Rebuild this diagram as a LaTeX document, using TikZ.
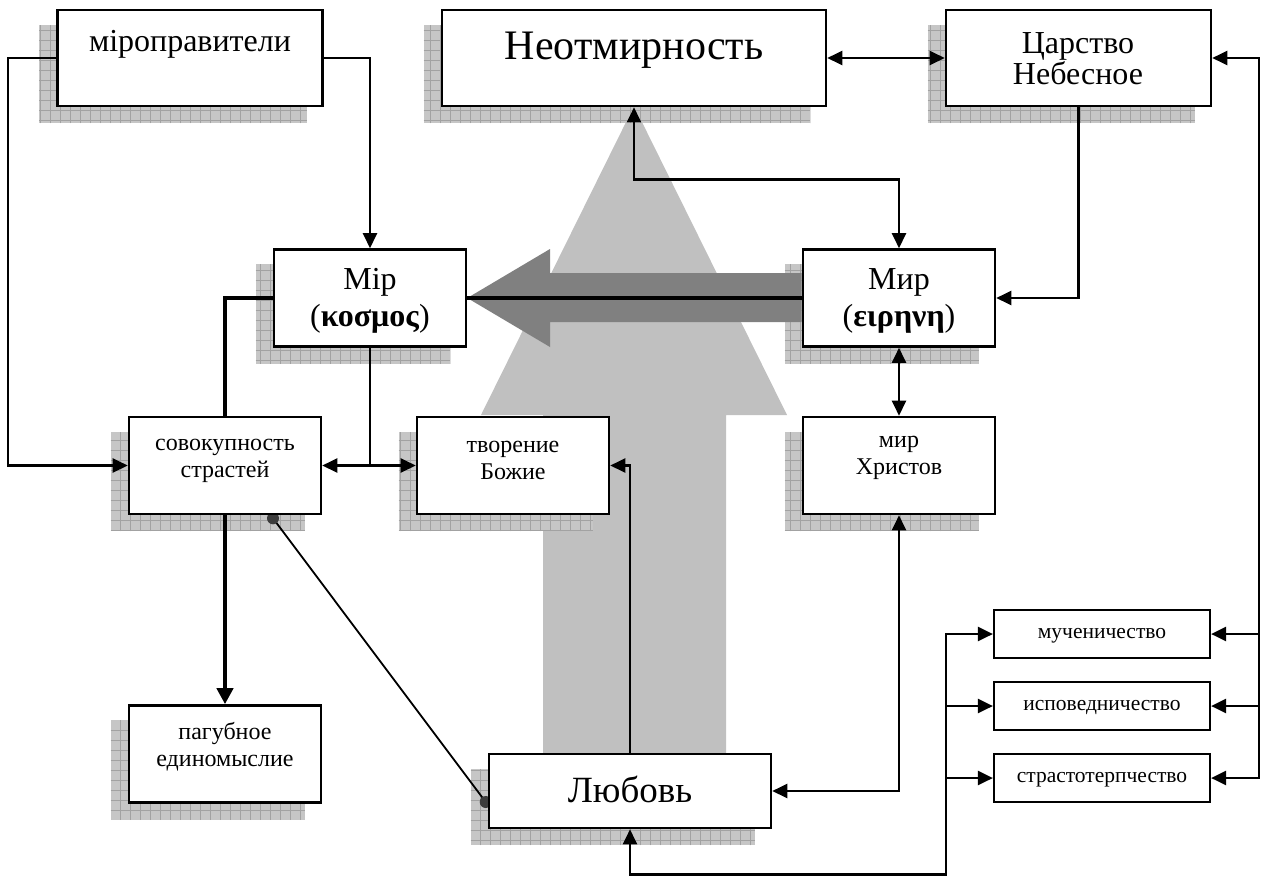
\documentclass[tikz,border=0pt]{standalone}
\usepackage{fontspec}
\setmainfont{Liberation Serif}
\usetikzlibrary{arrows.meta,calc}
\definecolor{lgray}{HTML}{C0C0C0}
\definecolor{dgray}{HTML}{808080}
\definecolor{shfill}{HTML}{C6C6C6}
\definecolor{shgrid}{HTML}{A2A2A2}
\definecolor{dotgray}{HTML}{3C3C3C}
\pgfdeclarelayer{lbig}
\pgfdeclarelayer{lshadow}
\pgfdeclarelayer{ldark}
\pgfdeclarelayer{llines}
\pgfsetlayers{lbig,lshadow,ldark,llines,main}
\newcommand\myshadow[1]{%
  \fill[shfill] ($(#1.north west)+(-17,16)$) rectangle ($(#1.south east)+(-17,16)$);
  \begin{scope}
    \clip ($(#1.north west)+(-17,16)$) rectangle ($(#1.south east)+(-17,16)$);
    \draw[shgrid, line width=0.7pt, step=10pt] ($(#1.north west)+(-17,16)$) grid ($(#1.south east)+(-17,16)$);
  \end{scope}}
\begin{document}
\begin{tikzpicture}[x=1pt,y=-1pt,
  box/.style={draw, line width=2.6pt, fill=white, inner sep=0pt, rectangle},
  bigbox/.style={box, minimum width=265pt, minimum height=96pt},
  midbox/.style={box, minimum width=192pt, minimum height=97pt},
  smallbox/.style={box, line width=2.2pt, minimum width=216pt, minimum height=48pt, text height=12pt, text depth=4pt, font=\fontsize{21.5}{22}\selectfont},
  conn/.style={draw, line width=2.4pt},
  thickconn/.style={draw, line width=4.5pt},
  diag/.style={draw, line width=1.8pt},
  >={Triangle[length=15pt,width=14pt]},
  t32/.style={font=\fontsize{32}{28}\selectfont, align=center},
  t24/.style={font=\fontsize{24}{27}\selectfont, align=center}]
\useasboundingbox (0,0) rectangle (1270,876);

% boxes
\node[bigbox] (mirop) at (190,58) {};
\node[box, minimum width=384pt, minimum height=96pt] (neot) at (634,58) {};
\node[bigbox] (tsar) at (1078.5,58) {};
\node[midbox] (mirI) at (370,298) {};
\node[midbox] (mirE) at (899,298) {};
\node[midbox] (sovok) at (225,465.5) {};
\node[midbox] (tvor) at (513,465.5) {};
\node[midbox] (mirX) at (899,465.5) {};
\node[midbox] (pag) at (225,754) {};
\node[box, minimum width=282pt, minimum height=74pt] (lyub) at (630,791) {};
\node[smallbox] (much) at (1102,634) {мученичество};
\node[smallbox] (ispov) at (1102,706) {исповедничество};
\node[smallbox] (strast) at (1102,778) {страстотерпчество};

% texts
\node[t32] (miropT) at (190,44) {міроправители};
\node[font=\fontsize{42}{42}\selectfont] (neotT) at (634,50) {Неотмирность};
\node[t32] (tsarT) at (1078,59) {Царство\\Небесное};
\node[font=\fontsize{32}{37}\selectfont, align=center] (mirIT) at (370,301) {Мір\\(\textbf{κοσμος})};
\node[font=\fontsize{32}{37}\selectfont, align=center] (mirET) at (899,301) {Мир\\(\textbf{ειρηνη})};
\node[t24] (sovokT) at (225,461) {совокупность\\страстей};
\node[t24] (tvorT) at (513,460) {творение\\Божие};
\node[t24] (mirXT) at (899,458) {мир\\Христов};
\node[t24] (pagT) at (225,747) {пагубное\\единомыслие};
\node[font=\fontsize{37}{40}\selectfont] (lyubT) at (630,789) {Любовь};

% background and big light arrow
\begin{pgfonlayer}{lbig}
\fill[white] (0,0) rectangle (1270,876);
\fill[lgray] (634,106) -- (787,415) -- (726,415) -- (726,760) -- (543,760) -- (543,415) -- (481,415) -- cycle;
\end{pgfonlayer}

% shadows
\begin{pgfonlayer}{lshadow}
\myshadow{mirop}
\myshadow{neot}
\myshadow{tsar}
\myshadow{mirI}
\myshadow{mirE}
\myshadow{sovok}
\myshadow{tvor}
\myshadow{mirX}
\myshadow{pag}
\myshadow{lyub}
\end{pgfonlayer}

% dark arrow
\begin{pgfonlayer}{ldark}
\fill[dgray] (mirI.east) -- (550,249) -- (550,273) -- (mirE.west |- 0,273) -- (mirE.west |- 0,322) -- (550,322) -- (550,347) -- cycle;
\end{pgfonlayer}

% connectors
\begin{pgfonlayer}{llines}
\draw[conn,->] (mirop.west) -- ++(-48,0) |- (sovok.west);
\draw[conn,->] (mirop.east) -| (mirI.north);
\draw[conn,<->] (neot.east) -- (tsar.west);
\draw[conn,<->] (neot.south) -- ++(0,72) -| (mirE.north);
\draw[conn,->] (tsar.south) |- (mirE.east);
\coordinate (rb1) at ($(much.east)+(48,0)$);
\coordinate (rb2) at ($(ispov.east)+(48,0)$);
\coordinate (rb3) at ($(strast.east)+(48,0)$);
\draw[conn,<->] (tsar.east) -| (rb3) -- (strast.east);
\draw[conn,->] (rb1) -- (much.east);
\draw[conn,->] (rb2) -- (ispov.east);
\draw[conn,<->] (mirE.south) -- (mirX.north);
\draw[conn,<->] (mirX.south) |- (lyub.east);
\draw[conn] (mirI.south) -- (mirI.south |- sovok.east) coordinate (jn);
\draw[conn,->] (jn) -- (sovok.east);
\draw[conn,->] (jn) -- (tvor.west);
\draw[thickconn,-{Triangle[length=16pt,width=16pt]}] (mirI.west) -| (pag.north);
\draw[conn,->] (lyub.north) |- (tvor.east);
\coordinate (lb1) at ($(much.west)+(-47,0)$);
\coordinate (lb2) at ($(ispov.west)+(-47,0)$);
\coordinate (lb3) at ($(strast.west)+(-47,0)$);
\draw[conn,<->] (lyub.south) -- ++(0,45) -| (lb1) -- (much.west);
\draw[conn,->] (lb2) -- (ispov.west);
\draw[conn,->] (lb3) -- (strast.west);
\draw[line width=4pt] (mirE.west) -- (mirI.east);
\coordinate (d1) at ($(sovok.south)+(48,3)$);
\coordinate (d2) at ($(lyub.west)+(-2,11)$);
\draw[diag] (d1) -- (d2);
\fill[dotgray] (d1) circle (6);
\fill[dotgray] (d2) circle (6);
\end{pgfonlayer}
\end{tikzpicture}
\end{document}
